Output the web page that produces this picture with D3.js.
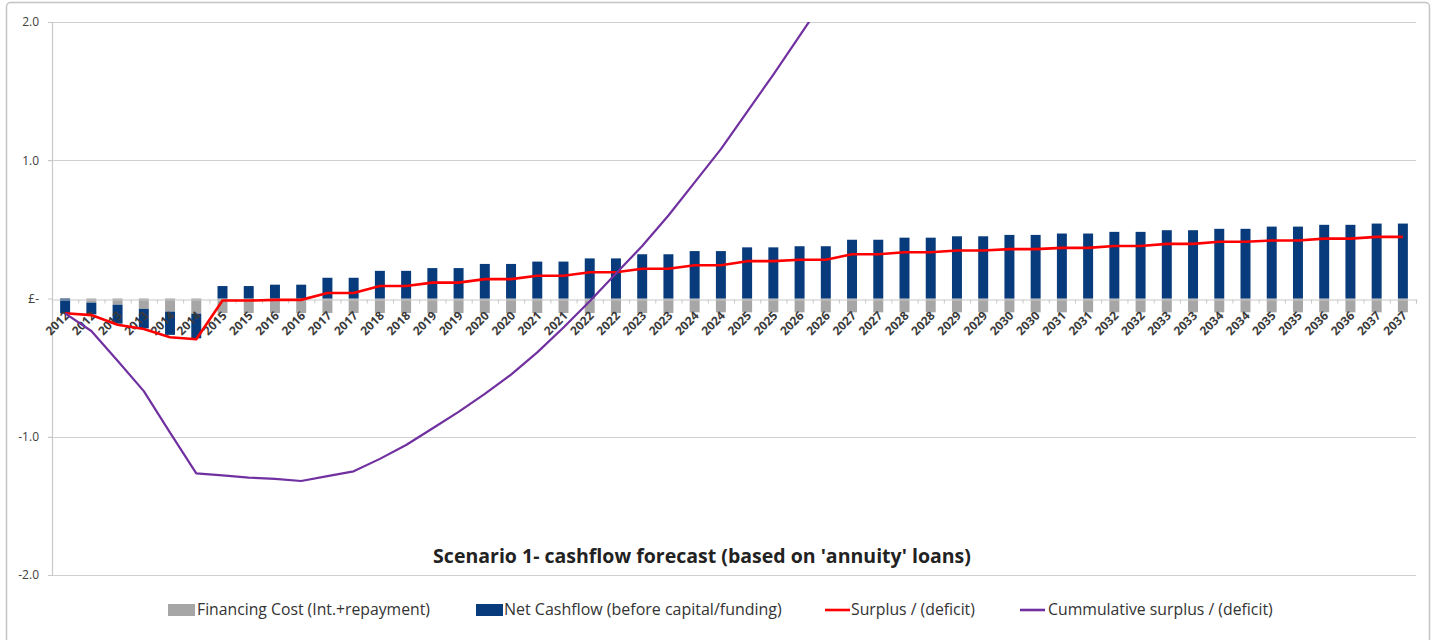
<!DOCTYPE html>
<html>
<head>
<meta charset="utf-8">
<script src="https://cdn.jsdelivr.net/npm/d3@7"></script>
<style>
  body { margin: 0; background: #fff; }
  svg { display: block; }
</style>
</head>
<body>
<div id="chart"></div>
<script>
// tick labels on the x axis (each year appears twice, as in the source sheet)
const labels = ["2012","2012","2013","2013","2014","2014","2015","2015","2016","2016",
    "2017","2017","2018","2018","2019","2019","2020","2020","2021","2021",
    "2022","2022","2023","2023","2024","2024","2025","2025","2026","2026",
    "2027","2027","2028","2028","2029","2029","2030","2030","2031","2031",
    "2032","2032","2033","2033","2034","2034","2035","2035","2036","2036",
    "2037","2037"];

const financing = [0, -0.03, -0.045, -0.075, -0.095, -0.11,
    -0.105, -0.105, -0.105, -0.105, -0.105, -0.105, -0.105, -0.105, -0.105, -0.105,
    -0.105, -0.105, -0.105, -0.105, -0.105, -0.105, -0.105, -0.105,
    -0.10, -0.10, -0.10, -0.10, -0.10, -0.10, -0.10, -0.10, -0.10, -0.10,
    -0.10, -0.10, -0.10, -0.10, -0.10, -0.10, -0.10, -0.10, -0.10, -0.10,
    -0.10, -0.10, -0.10, -0.10, -0.10, -0.10, -0.10, -0.10];

const netCashflow = [-0.107, -0.085, -0.137, -0.141, -0.168, -0.178,
    0.09, 0.09, 0.10, 0.10, 0.15, 0.15, 0.20, 0.20, 0.22, 0.22, 0.25, 0.25, 0.267, 0.267,
    0.29, 0.29, 0.32, 0.32, 0.343, 0.343, 0.37, 0.37, 0.378, 0.378, 0.425, 0.425,
    0.44, 0.44, 0.45, 0.45, 0.46, 0.46, 0.47, 0.47, 0.482, 0.482, 0.494, 0.494,
    0.504, 0.504, 0.52, 0.52, 0.533, 0.533, 0.542, 0.542];

const surplus = [-0.107, -0.12, -0.19, -0.22, -0.28, -0.295,
    -0.015, -0.015, -0.01, -0.01, 0.04, 0.04, 0.09, 0.09, 0.115, 0.115, 0.14, 0.14,
    0.165, 0.165, 0.19, 0.19, 0.215, 0.215, 0.24, 0.24, 0.27, 0.27, 0.28, 0.28,
    0.32, 0.32, 0.335, 0.335, 0.347, 0.347, 0.357, 0.357, 0.366, 0.366,
    0.38, 0.38, 0.395, 0.395, 0.41, 0.41, 0.42, 0.42, 0.433, 0.433, 0.446, 0.446];

const cumulative = [-0.107, -0.235, -0.45, -0.67, -0.97, -1.265, -1.28, -1.295, -1.305, -1.32,
    -1.285, -1.25, -1.16, -1.06, -0.94, -0.82, -0.69, -0.55, -0.39, -0.21,
    -0.02, 0.18, 0.38, 0.60, 0.84, 1.08, 1.35, 1.62, 1.90, 2.18,
    2.49, 2.80, 3.13, 3.46, 3.80, 4.14, 4.49, 4.84, 5.20, 5.56,
    5.94, 6.32, 6.71, 7.10, 7.51, 7.92, 8.34, 8.76, 9.19, 9.62, 10.06, 10.50];

const yTicks = [2, 1, 0, -1, -2];
const yTickLabels = ["2.0", "1.0", "£-", "-1.0", "-2.0"];

const title = "Scenario 1- cashflow forecast (based on 'annuity' loans)";
const seriesNames = ["Financing Cost (Int.+repayment)", "Net Cashflow (before capital/funding)",
    "Surplus / (deficit)", "Cummulative surplus / (deficit)"];
const colors = ["#a6a6a6", "#073b7b", "#ff0000", "#7030a0"];

const width = 1437, height = 640;
const margin = {top: 22, right: 21, bottom: 65, left: 52};
const font = "'Open Sans', 'Liberation Sans', sans-serif";

const svg = d3.select("#chart").append("svg")
    .attr("width", width)
    .attr("height", height);

// chart border
svg.append("rect")
    .attr("x", 6.5).attr("y", 2.5)
    .attr("width", 1423).attr("height", 660)
    .attr("rx", 4)
    .attr("fill", "#fff")
    .attr("stroke", "#c4c4c4")
    .attr("stroke-width", 1.5);

const idx = d3.range(labels.length);

const x = d3.scaleBand()
    .domain(idx)
    .range([margin.left, width - margin.right])
    .paddingInner(0.62)
    .paddingOuter(0.31);

const xEdge = d3.scaleLinear()
    .domain([0, labels.length])
    .range([margin.left, width - margin.right]);

const y = d3.scaleLinear()
    .domain([-2, 2])
    .range([height - margin.bottom, margin.top]);

// gridlines
svg.append("g")
    .selectAll("line")
    .data(yTicks.filter(d => d !== 0))
    .join("line")
        .attr("x1", margin.left - 4)
        .attr("x2", width - margin.right)
        .attr("y1", d => Math.round(y(d)) + 0.5)
        .attr("y2", d => Math.round(y(d)) + 0.5)
        .attr("stroke", "#d0d0d0")
        .attr("stroke-width", 1.2);

// y axis
const yAxis = svg.append("g")
    .attr("transform", "translate(" + margin.left + ",0)")
    .call(d3.axisLeft(y).tickValues(yTicks).tickSize(4)
        .tickFormat((d, i) => yTickLabels[i]));
yAxis.select(".domain").attr("stroke", "#c8c8c8").attr("stroke-width", 1.2);
yAxis.selectAll(".tick line").attr("stroke", "#c8c8c8");
yAxis.selectAll("text")
    .attr("x", -13)
    .style("font-family", font)
    .style("font-size", "12px")
    .style("fill", "#404040");

// stacked bars (diverging so negatives stack below zero)
const rows = idx.map(i => ({i: i, fin: financing[i], net: netCashflow[i]}));
const stacked = d3.stack()
    .keys(["fin", "net"])
    .offset(d3.stackOffsetDiverging)(rows);

svg.append("g")
    .selectAll("g")
    .data(stacked)
    .join("g")
        .attr("fill", (d, k) => colors[k])
    .selectAll("rect")
    .data(d => d)
    .join("rect")
        .attr("x", d => x(d.data.i))
        .attr("width", x.bandwidth())
        .attr("y", d => y(Math.max(d[0], d[1])))
        .attr("height", d => Math.abs(y(d[0]) - y(d[1])));

// x axis with minor ticks at category edges
const xAxis = svg.append("g")
    .attr("transform", "translate(0," + (Math.round(y(0)) + 0.5) + ")")
    .call(d3.axisBottom(xEdge).tickValues(d3.range(labels.length + 1)).tickSize(4).tickFormat(""));
xAxis.select(".domain").attr("stroke", "#c8c8c8").attr("stroke-width", 1.2);
xAxis.selectAll(".tick line").attr("stroke", "#c8c8c8");

svg.append("g")
    .selectAll("text")
    .data(idx)
    .join("text")
        .attr("transform", i => "translate(" + (x(i) + x.bandwidth() / 2 + 5) + "," + (y(0) + 18) + ") rotate(-45)")
        .attr("text-anchor", "end")
        .style("font-family", font)
        .style("font-size", "12px")
        .style("font-weight", "bold")
        .style("fill", "#3a3a3a")
        .text(i => labels[i]);

// lines, clipped to the plot area
svg.append("clipPath").attr("id", "plot-clip")
    .append("rect")
    .attr("x", margin.left).attr("y", y(2))
    .attr("width", width - margin.right - margin.left)
    .attr("height", y(-2) - y(2));

const line = d3.line()
    .x(i => x(i) + x.bandwidth() / 2);

const lines = svg.append("g").attr("clip-path", "url(#plot-clip)");

lines.append("path")
    .datum(idx)
    .attr("fill", "none")
    .attr("stroke", colors[2])
    .attr("stroke-width", 2.6)
    .attr("stroke-linejoin", "round")
    .attr("d", line.y(i => y(surplus[i])));

lines.append("path")
    .datum(idx)
    .attr("fill", "none")
    .attr("stroke", colors[3])
    .attr("stroke-width", 2.2)
    .attr("stroke-linejoin", "round")
    .attr("d", line.y(i => y(cumulative[i])));

// fit a text element to a target width
function fitText(sel, target, size) {
    sel.style("font-size", size + "px");
    const len = sel.node().getComputedTextLength();
    sel.style("font-size", (size * target / len) + "px");
}

// title
const t = svg.append("text")
    .attr("x", 702).attr("y", 563)
    .attr("text-anchor", "middle")
    .style("font-family", font)
    .style("font-weight", "bold")
    .style("fill", "#222")
    .text(title);
fitText(t, 538, 18);

// legend
const legendY = 610;
const legendItems = [
    {key: 168, text: 197, w: 233, type: "rect"},
    {key: 476, text: 504, w: 278, type: "rect"},
    {key: 825, text: 851, w: 124, type: "line"},
    {key: 1020, text: 1048, w: 225, type: "line"}
];
const legend = svg.append("g");
legendItems.forEach((d, k) => {
    if (d.type === "rect") {
        legend.append("rect")
            .attr("x", d.key).attr("y", legendY - 6)
            .attr("width", 27).attr("height", 12)
            .attr("fill", colors[k]);
    } else {
        legend.append("line")
            .attr("x1", d.key).attr("x2", d.key + 25)
            .attr("y1", legendY).attr("y2", legendY)
            .attr("stroke", colors[k])
            .attr("stroke-width", 2.6);
    }
    const lt = legend.append("text")
        .attr("x", d.text).attr("y", legendY + 5)
        .style("font-family", font)
        .style("fill", "#333")
        .text(seriesNames[k]);
    fitText(lt, d.w, 14);
});
</script>
</body>
</html>
